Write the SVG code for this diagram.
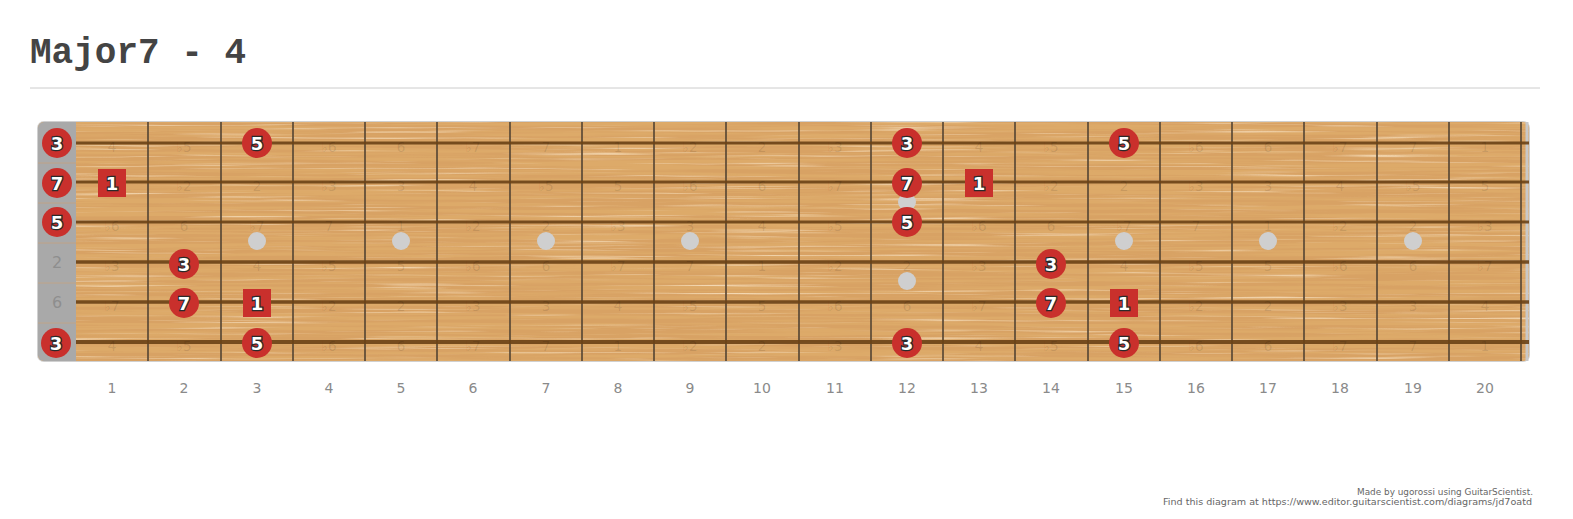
<svg xmlns="http://www.w3.org/2000/svg" width="1573" height="519" viewBox="0 0 1573 519">
<style>
.title{font-family:"Liberation Mono","Courier New",monospace;font-weight:bold;font-size:36px;fill:#444}
.fret{stroke:#5c4a36;stroke-width:2;opacity:0.85}
.str{stroke:#6b4216;stroke-width:3;opacity:0.9}
.faint{font-family:"DejaVu Sans",Verdana,sans-serif;font-size:14px;fill:#000;fill-opacity:0.1;text-anchor:middle}
.nutlbl{font-family:"DejaVu Sans",Verdana,sans-serif;font-size:16px;fill:#8e8e8e;text-anchor:middle}
.num{font-family:"DejaVu Sans",Verdana,sans-serif;font-size:14px;fill:#8a8a8a;text-anchor:middle}
.dot{fill:#cfcfcf}
.nc{fill:#c9302c}
.nt{font-family:"DejaVu Sans",Verdana,sans-serif;font-weight:bold;font-size:18px;fill:#fff;stroke:#2a2a2a;stroke-width:2.5;paint-order:stroke;text-anchor:middle}
.credit{font-family:"DejaVu Sans",Verdana,sans-serif;font-size:9px;fill:#666;text-anchor:end}
</style>
<defs>
<filter id="grain" x="0" y="0" width="100%" height="100%" filterUnits="objectBoundingBox">
<feTurbulence type="fractalNoise" baseFrequency="0.004 0.3" numOctaves="4" seed="7" result="n"/>
<feColorMatrix in="n" type="matrix" values="0 0 0 0 0.72  0 0 0 0 0.40  0 0 0 0 0.14  4.5 0 0 0 -1.9"/>
</filter>
<filter id="grain2" x="0" y="0" width="100%" height="100%" filterUnits="objectBoundingBox">
<feTurbulence type="fractalNoise" baseFrequency="0.006 0.4" numOctaves="3" seed="21" result="n"/>
<feColorMatrix in="n" type="matrix" values="0 0 0 0 0.90  0 0 0 0 0.69  0 0 0 0 0.45  3 0 0 0 -1.6"/>
</filter>
<clipPath id="boardclip"><rect x="38" y="122" width="1491" height="239" rx="6"/></clipPath>
</defs>
<rect width="1573" height="519" fill="#fff"/>
<g id="title">
<text class="title" x="30" y="63">Major7 - 4</text>
<line x1="30" y1="88" x2="1540" y2="88" stroke="#cccccc" stroke-width="1"/>
</g>
<g id="board">
<rect x="37" y="121" width="1493" height="241" rx="7" fill="#d0d0d0"/>
<g clip-path="url(#boardclip)">
<rect x="38" y="122" width="1491" height="239" fill="#d8a264"/>
<rect x="38" y="122" width="1491" height="239" filter="url(#grain2)"/>
<rect x="38" y="122" width="1491" height="239" filter="url(#grain)"/>
<rect x="38" y="122" width="38" height="239" fill="#a9a9a9"/>
<g stroke="#c9a27a" stroke-width="1" opacity="0.7">
<line x1="38" y1="163" x2="76" y2="163"/><line x1="38" y1="203" x2="76" y2="203"/><line x1="38" y1="243" x2="76" y2="243"/><line x1="38" y1="283" x2="76" y2="283"/><line x1="38" y1="323" x2="76" y2="323"/>
</g>
</g>
<line x1="1527" y1="122" x2="1527" y2="361" stroke="#c8c8c8" stroke-width="3"/>
</g>
<g id="frets">
<line class="fret" x1="148" y1="122" x2="148" y2="361"/><line class="fret" x1="221" y1="122" x2="221" y2="361"/><line class="fret" x1="293" y1="122" x2="293" y2="361"/><line class="fret" x1="365" y1="122" x2="365" y2="361"/><line class="fret" x1="437" y1="122" x2="437" y2="361"/><line class="fret" x1="510" y1="122" x2="510" y2="361"/><line class="fret" x1="582" y1="122" x2="582" y2="361"/><line class="fret" x1="654" y1="122" x2="654" y2="361"/><line class="fret" x1="726" y1="122" x2="726" y2="361"/><line class="fret" x1="799" y1="122" x2="799" y2="361"/><line class="fret" x1="871" y1="122" x2="871" y2="361"/><line class="fret" x1="943" y1="122" x2="943" y2="361"/><line class="fret" x1="1015" y1="122" x2="1015" y2="361"/><line class="fret" x1="1088" y1="122" x2="1088" y2="361"/><line class="fret" x1="1160" y1="122" x2="1160" y2="361"/><line class="fret" x1="1232" y1="122" x2="1232" y2="361"/><line class="fret" x1="1304" y1="122" x2="1304" y2="361"/><line class="fret" x1="1377" y1="122" x2="1377" y2="361"/><line class="fret" x1="1449" y1="122" x2="1449" y2="361"/><line class="fret" x1="1521" y1="122" x2="1521" y2="361"/>
</g>
<g id="strings">
<line class="str" x1="76" y1="143" x2="1529" y2="143"/>
<line class="str" x1="76" y1="182" x2="1529" y2="182"/>
<line class="str" x1="76" y1="222" x2="1529" y2="222"/>
<line class="str" x1="76" y1="262" x2="1529" y2="262" style="stroke-width:3.5"/>
<line class="str" x1="76" y1="302" x2="1529" y2="302" style="stroke-width:3.5"/>
<line class="str" x1="76" y1="342" x2="1529" y2="342" style="stroke-width:4"/>
</g>
<g id="faint-labels">
<text class="faint" x="112" y="152">4</text><text class="faint" x="184" y="152">♭5</text><text class="faint" x="329" y="152">♭6</text><text class="faint" x="401" y="152">6</text><text class="faint" x="473" y="152">♭7</text><text class="faint" x="546" y="152">7</text><text class="faint" x="618" y="152">1</text><text class="faint" x="690" y="152">♭2</text><text class="faint" x="762" y="152">2</text><text class="faint" x="835" y="152">♭3</text><text class="faint" x="979" y="152">4</text><text class="faint" x="1051" y="152">♭5</text><text class="faint" x="1196" y="152">♭6</text><text class="faint" x="1268" y="152">6</text><text class="faint" x="1340" y="152">♭7</text><text class="faint" x="1413" y="152">7</text><text class="faint" x="1485" y="152">1</text>
<text class="faint" x="184" y="191">♭2</text><text class="faint" x="257" y="191">2</text><text class="faint" x="329" y="191">♭3</text><text class="faint" x="401" y="191">3</text><text class="faint" x="473" y="191">4</text><text class="faint" x="546" y="191">♭5</text><text class="faint" x="618" y="191">5</text><text class="faint" x="690" y="191">♭6</text><text class="faint" x="762" y="191">6</text><text class="faint" x="835" y="191">♭7</text><text class="faint" x="1051" y="191">♭2</text><text class="faint" x="1124" y="191">2</text><text class="faint" x="1196" y="191">♭3</text><text class="faint" x="1268" y="191">3</text><text class="faint" x="1340" y="191">4</text><text class="faint" x="1413" y="191">♭5</text><text class="faint" x="1485" y="191">5</text>
<text class="faint" x="112" y="231">♭6</text><text class="faint" x="184" y="231">6</text><text class="faint" x="257" y="231">♭7</text><text class="faint" x="329" y="231">7</text><text class="faint" x="401" y="231">1</text><text class="faint" x="473" y="231">♭2</text><text class="faint" x="546" y="231">2</text><text class="faint" x="618" y="231">♭3</text><text class="faint" x="690" y="231">3</text><text class="faint" x="762" y="231">4</text><text class="faint" x="835" y="231">♭5</text><text class="faint" x="979" y="231">♭6</text><text class="faint" x="1051" y="231">6</text><text class="faint" x="1124" y="231">♭7</text><text class="faint" x="1196" y="231">7</text><text class="faint" x="1268" y="231">1</text><text class="faint" x="1340" y="231">♭2</text><text class="faint" x="1413" y="231">2</text><text class="faint" x="1485" y="231">♭3</text>
<text class="faint" x="112" y="271">♭3</text><text class="faint" x="257" y="271">4</text><text class="faint" x="329" y="271">♭5</text><text class="faint" x="401" y="271">5</text><text class="faint" x="473" y="271">♭6</text><text class="faint" x="546" y="271">6</text><text class="faint" x="618" y="271">♭7</text><text class="faint" x="690" y="271">7</text><text class="faint" x="762" y="271">1</text><text class="faint" x="835" y="271">♭2</text><text class="faint" x="907" y="271">2</text><text class="faint" x="979" y="271">♭3</text><text class="faint" x="1124" y="271">4</text><text class="faint" x="1196" y="271">♭5</text><text class="faint" x="1268" y="271">5</text><text class="faint" x="1340" y="271">♭6</text><text class="faint" x="1413" y="271">6</text><text class="faint" x="1485" y="271">♭7</text>
<text class="faint" x="112" y="311">♭7</text><text class="faint" x="329" y="311">♭2</text><text class="faint" x="401" y="311">2</text><text class="faint" x="473" y="311">♭3</text><text class="faint" x="546" y="311">3</text><text class="faint" x="618" y="311">4</text><text class="faint" x="690" y="311">♭5</text><text class="faint" x="762" y="311">5</text><text class="faint" x="835" y="311">♭6</text><text class="faint" x="907" y="311">6</text><text class="faint" x="979" y="311">♭7</text><text class="faint" x="1196" y="311">♭2</text><text class="faint" x="1268" y="311">2</text><text class="faint" x="1340" y="311">♭3</text><text class="faint" x="1413" y="311">3</text><text class="faint" x="1485" y="311">4</text>
<text class="faint" x="112" y="351">4</text><text class="faint" x="184" y="351">♭5</text><text class="faint" x="329" y="351">♭6</text><text class="faint" x="401" y="351">6</text><text class="faint" x="473" y="351">♭7</text><text class="faint" x="546" y="351">7</text><text class="faint" x="618" y="351">1</text><text class="faint" x="690" y="351">♭2</text><text class="faint" x="762" y="351">2</text><text class="faint" x="835" y="351">♭3</text><text class="faint" x="979" y="351">4</text><text class="faint" x="1051" y="351">♭5</text><text class="faint" x="1196" y="351">♭6</text><text class="faint" x="1268" y="351">6</text><text class="faint" x="1340" y="351">♭7</text><text class="faint" x="1413" y="351">7</text><text class="faint" x="1485" y="351">1</text>
</g>
<g id="nut-labels">
<text class="nutlbl" x="57" y="268">2</text>
<text class="nutlbl" x="57" y="308">6</text>
</g>
<g id="markers">
<circle class="dot" cx="257" cy="241" r="9"/><circle class="dot" cx="401" cy="241" r="9"/><circle class="dot" cx="546" cy="241" r="9"/><circle class="dot" cx="690" cy="241" r="9"/><circle class="dot" cx="907" cy="202" r="9"/><circle class="dot" cx="907" cy="281" r="9"/><circle class="dot" cx="1124" cy="241" r="9"/><circle class="dot" cx="1268" cy="241" r="9"/><circle class="dot" cx="1413" cy="241" r="9"/>
</g>
<g id="notes">
<g id="n-s1-0"><circle class="nc" cx="57" cy="143" r="15"/><text class="nt" x="57" y="150">3</text></g>
<g id="n-s1-3"><circle class="nc" cx="257" cy="143" r="15"/><text class="nt" x="257" y="150">5</text></g>
<g id="n-s1-12"><circle class="nc" cx="907" cy="143" r="15"/><text class="nt" x="907" y="150">3</text></g>
<g id="n-s1-15"><circle class="nc" cx="1124" cy="143" r="15"/><text class="nt" x="1124" y="150">5</text></g>
<g id="n-s2-0"><circle class="nc" cx="57" cy="183" r="15"/><text class="nt" x="57" y="190">7</text></g>
<g id="n-s2-1"><rect class="nc" x="98" y="169" width="28" height="28"/><text class="nt" x="112" y="190">1</text></g>
<g id="n-s2-12"><circle class="nc" cx="907" cy="183" r="15"/><text class="nt" x="907" y="190">7</text></g>
<g id="n-s2-13"><rect class="nc" x="965" y="169" width="28" height="28"/><text class="nt" x="979" y="190">1</text></g>
<g id="n-s3-0"><circle class="nc" cx="57" cy="222" r="15"/><text class="nt" x="57" y="229">5</text></g>
<g id="n-s3-12"><circle class="nc" cx="907" cy="222" r="15"/><text class="nt" x="907" y="229">5</text></g>
<g id="n-s4-2"><circle class="nc" cx="184" cy="264" r="15"/><text class="nt" x="184" y="271">3</text></g>
<g id="n-s4-14"><circle class="nc" cx="1051" cy="264" r="15"/><text class="nt" x="1051" y="271">3</text></g>
<g id="n-s5-2"><circle class="nc" cx="184" cy="303" r="15"/><text class="nt" x="184" y="310">7</text></g>
<g id="n-s5-3"><rect class="nc" x="243" y="289" width="28" height="28"/><text class="nt" x="257" y="310">1</text></g>
<g id="n-s5-14"><circle class="nc" cx="1051" cy="303" r="15"/><text class="nt" x="1051" y="310">7</text></g>
<g id="n-s5-15"><rect class="nc" x="1110" y="289" width="28" height="28"/><text class="nt" x="1124" y="310">1</text></g>
<g id="n-s6-0"><circle class="nc" cx="56" cy="343" r="15"/><text class="nt" x="56" y="350">3</text></g>
<g id="n-s6-3"><circle class="nc" cx="257" cy="343" r="15"/><text class="nt" x="257" y="350">5</text></g>
<g id="n-s6-12"><circle class="nc" cx="907" cy="343" r="15"/><text class="nt" x="907" y="350">3</text></g>
<g id="n-s6-15"><circle class="nc" cx="1124" cy="343" r="15"/><text class="nt" x="1124" y="350">5</text></g>
</g>
<g id="fret-numbers">
<text class="num" x="112" y="393">1</text><text class="num" x="184" y="393">2</text><text class="num" x="257" y="393">3</text><text class="num" x="329" y="393">4</text><text class="num" x="401" y="393">5</text><text class="num" x="473" y="393">6</text><text class="num" x="546" y="393">7</text><text class="num" x="618" y="393">8</text><text class="num" x="690" y="393">9</text><text class="num" x="762" y="393">10</text><text class="num" x="835" y="393">11</text><text class="num" x="907" y="393">12</text><text class="num" x="979" y="393">13</text><text class="num" x="1051" y="393">14</text><text class="num" x="1124" y="393">15</text><text class="num" x="1196" y="393">16</text><text class="num" x="1268" y="393">17</text><text class="num" x="1340" y="393">18</text><text class="num" x="1413" y="393">19</text><text class="num" x="1485" y="393">20</text>
</g>
<g id="credits">
<text class="credit" x="1533" y="495" textLength="176" lengthAdjust="spacingAndGlyphs">Made by ugorossi using GuitarScientist.</text>
<text class="credit" x="1532" y="505" textLength="369" lengthAdjust="spacingAndGlyphs">Find this diagram at https://www.editor.guitarscientist.com/diagrams/jd7oatd</text>
</g>
</svg>
